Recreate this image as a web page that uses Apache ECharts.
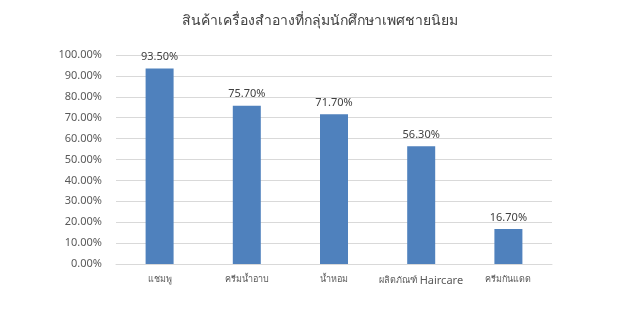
<!DOCTYPE html>
<html><head><meta charset="utf-8">
<script src="https://cdn.jsdelivr.net/npm/echarts@6/dist/echarts.min.js"></script>
<style>html,body{margin:0;padding:0;background:#fff}#c{width:640px;height:314px}</style>
</head><body><div id="c"></div>
<script>
const categories = ['แชมพู','ครีมน้ำอาบ','น้ำหอม','ผลิตภัณฑ์ Haircare','ครีมกันแดด'];
const values = [93.5, 75.7, 71.7, 56.3, 16.7];
const titleText = 'สินค้าเครื่องสำอางที่กลุ่มนักศึกษาเพศชายนิยม';
const chart = echarts.init(document.getElementById('c'));
chart.setOption({
  animation: false,
  title: {text: titleText, left: 'center', top: 9, textStyle: {fontSize: 14, fontWeight: 'normal', color: '#404040', fontFamily: 'Noto Sans, sans-serif'}},
  grid: {left: 116, right: 88, top: 55, bottom: 50},
  xAxis: {type: 'category', data: categories,
    axisLine: {lineStyle: {color: '#d9d9d9'}}, axisTick: {show: false},
    axisLabel: {interval: 0, color: '#595959', fontSize: 9, margin: 11, fontFamily: 'Noto Sans, sans-serif',
      formatter: v => v.replace(/([A-Za-z]+)/g, '{en|$1}'),
      rich: {en: {fontSize: 11, color: '#595959', fontFamily: 'Noto Sans, sans-serif'}}}},
  yAxis: {type: 'value', min: 0, max: 100, interval: 10,
    axisLine: {show: false}, axisTick: {show: false},
    splitLine: {lineStyle: {color: '#d9d9d9'}},
    axisLabel: {color: '#595959', fontSize: 11, margin: 14, formatter: v => v.toFixed(2) + '%', fontFamily: 'Noto Sans, sans-serif'}},
  series: [{type: 'bar', data: values, barWidth: 28,
    itemStyle: {color: '#4f81bd'},
    label: {show: true, position: 'top', distance: 6, color: '#404040', fontSize: 11, formatter: p => p.value.toFixed(2) + '%', fontFamily: 'Noto Sans, sans-serif'}}]
});
</script></body></html>
